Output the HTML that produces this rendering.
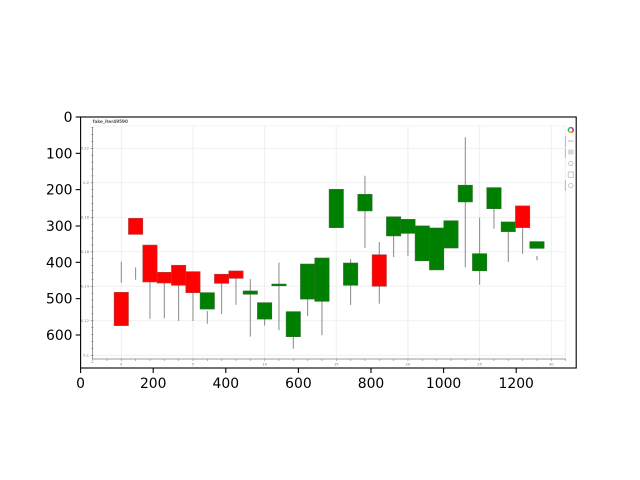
<!DOCTYPE html>
<html>
<head>
<meta charset="utf-8">
<title>fake_iter49590 candlestick chart</title>
<style>
html,body{margin:0;padding:0;background:#fff;}
svg{display:block;}
text{font-family:"DejaVu Sans","Liberation Sans",sans-serif;}
</style>
</head>
<body>
<svg id="chart" xmlns="http://www.w3.org/2000/svg" width="640" height="480" viewBox="0 0 640 480">
<defs><filter id="soft" x="0" y="0" width="100%" height="100%"><feGaussianBlur stdDeviation="0.35"/></filter></defs>
</svg>
<script>
const outerXTicks = [0, 200, 400, 600, 800, 1000, 1200];
const outerYTicks = [0, 100, 200, 300, 400, 500, 600];
const priceTicks = [0.1, 0.12, 0.14, 0.16, 0.18, 0.2, 0.22];
const priceTickLabels = ['0.1', '0.12', '0.14', '0.16', '0.18', '0.2', '0.22'];
const indexTicks = [0, 5, 10, 15, 20, 25, 30];
const openValues = [.1172,.1701,.1425,.1419,.1406,.1363,.1363,.1417,.1446,.1373,.1305,.1413,.1253,.1529,.1564,.1962,.1535,.1933,.1400,.1803,.1788,.1750,.1738,.1780,.1986,.1589,.1972,.1773,.1740,.1659];
const closeValues = [.1365,.1794,.1639,.1481,.1522,.1485,.1268,.1470,.1489,.1354,.1210,.1403,.1108,.1326,.1313,.1740,.1406,.1837,.1583,.1692,.1707,.1548,.1495,.1622,.1889,.1490,.1850,.1717,.1866,.1620];
const highValues = [.1543,.1510,.1639,.1481,.1522,.1485,.1257,.1470,.1489,.1442,.1305,.1537,.1253,.1529,.1564,.1962,.1558,.2041,.1657,.1803,.1788,.1750,.1738,.1780,.2264,.1798,.1972,.1773,.1866,.1576];
const lowValues = [.1421,.1438,.1212,.1214,.1199,.1199,.1183,.1239,.1293,.1108,.1172,.1145,.1038,.1228,.1116,.1740,.1292,.1622,.1299,.1570,.1576,.1548,.1495,.1622,.1510,.1409,.1734,.1541,.1589,.1551];

const NS = 'http://www.w3.org/2000/svg';
const svg = document.getElementById('chart');
const outerX = v => 80.6 + v * 0.363;
const outerY = v => 117 + v * 0.3633;
const priceY = v => 355.3 - (v - 0.1) * 1725;
const indexX = i => 121.3 + i * 14.333;

function make(tag, attrs, parent) {
  const el = document.createElementNS(NS, tag);
  for (const k in attrs) el.setAttribute(k, attrs[k]);
  (parent || svg).appendChild(el);
  return el;
}

const inner = make('g', {filter: 'url(#soft)'});


const innerBg = make('rect', {x: 81, y: 118, width: 495, height: 250, fill: '#ffffff'}, inner);



/* Embedded chart: grid */
priceTicks.forEach(v => {
  const g = make('line', {x1: 92.5, x2: 565, y1: priceY(v), y2: priceY(v), stroke: '#f1f1f1', 'stroke-width': 1}, inner);
  
  
});
indexTicks.forEach(i => {
  const g = make('line', {x1: indexX(i), x2: indexX(i), y1: 126, y2: 359, stroke: '#eeeeee', 'stroke-width': 1}, inner);
  
  
});
const topBorder = make('line', {x1: 92.5, x2: 565, y1: 126, y2: 126, stroke: '#f3f3f3', 'stroke-width': 1}, inner);


const rightBorder = make('line', {x1: 565.3, x2: 565.3, y1: 126, y2: 359, stroke: '#eeeeee', 'stroke-width': 1}, inner);



/* Embedded chart: candles */
openValues.forEach((o, i) => {
  const c = closeValues[i];
  const x = indexX(i);
  const wick = make('line', {x1: x, x2: x, y1: priceY(highValues[i]), y2: priceY(lowValues[i]), stroke: '#888888', 'stroke-width': 1}, inner);
  
  
  const up = c > o;
  const top = priceY(Math.max(o, c));
  const bottom = priceY(Math.min(o, c));
  const body = make('rect', {x: x - 7.17, y: top, width: 14.33, height: bottom - top, fill: up ? '#ff0000' : '#008000', stroke: up ? '#b04040' : '#2f6f2f', 'stroke-width': 0.6}, inner);
  
  
});

/* Embedded chart: axes */
const innerYAxis = make('line', {x1: 92.5, x2: 92.5, y1: 127, y2: 359, stroke: '#7a7a7a', 'stroke-width': 0.8}, inner);


const innerXAxis = make('line', {x1: 92.5, x2: 565.5, y1: 359, y2: 359, stroke: '#7a7a7a', 'stroke-width': 0.8}, inner);


for (let k = 0; k <= 33; k++) {
  const x = indexX(k - 2);
  if (x > 566) break;
  const t = make('line', {x1: x, x2: x, y1: 359, y2: 361, stroke: '#888888', 'stroke-width': 0.6}, inner);
  
  
}
for (let k = 0; k <= 34; k++) {
  const v = 0.096 + k * 0.004;
  if (priceY(v) < 127) break;
  const major = k % 5 === 1;
  const t = make('line', {x1: major ? 90.5 : 91.3, x2: 93.5, y1: priceY(v), y2: priceY(v), stroke: '#7a7a7a', 'stroke-width': 0.6}, inner);
  
  
}
priceTickLabels.forEach((s, i) => {
  const t = make('text', {x: 89, y: priceY(priceTicks[i]) + 1.2, 'font-size': 3.6, fill: '#777777', 'text-anchor': 'end'}, inner);
  t.textContent = s;
  
  
});
indexTicks.forEach(i => {
  const t = make('text', {x: indexX(i), y: 365.3, 'font-size': 3.6, fill: '#777777', 'text-anchor': 'middle'}, inner);
  t.textContent = String(i);
  
  
});
const innerTitle = make('text', {x: 92.7, y: 123, 'font-size': 4.2, 'font-weight': 'bold', fill: '#555555'}, inner);
innerTitle.textContent = 'fake_iter49590';



/* Embedded chart: toolbar */
const toolbar = make('g', {}, inner);


const logoColors = ['#e8412f', '#f5a623', '#3cb54a', '#2a9df4', '#8e44ad'];
logoColors.forEach((col, i) => {
  const a0 = i * 2 * Math.PI / 5, a1 = (i + 1) * 2 * Math.PI / 5;
  const r = 2.4, cx = 570.8, cy = 130;
  const seg = make('path', {d: `M${cx + r * Math.cos(a0)} ${cy + r * Math.sin(a0)}A${r} ${r} 0 0 1 ${cx + r * Math.cos(a1)} ${cy + r * Math.sin(a1)}`, fill: 'none', stroke: col, 'stroke-width': 1.5}, toolbar);
  
  
});
const pan = make('rect', {x: 568, y: 140.4, width: 5.6, height: 1.2, fill: '#c4c4c4'}, toolbar);


const zoomTool = make('rect', {x: 568, y: 149.5, width: 5.6, height: 5, fill: '#d8d8d8'}, toolbar);


const wheel = make('circle', {cx: 570.8, cy: 163.5, r: 2.2, fill: 'none', stroke: '#c4c4c4', 'stroke-width': 0.9}, toolbar);


const save = make('rect', {x: 568.3, y: 172, width: 5, height: 5.4, fill: 'none', stroke: '#c4c4c4', 'stroke-width': 0.9}, toolbar);


const reset = make('circle', {cx: 570.8, cy: 185.5, r: 2.2, fill: 'none', stroke: '#c4c4c4', 'stroke-width': 0.9}, toolbar);


const blue1 = make('line', {x1: 565.4, x2: 565.4, y1: 136, y2: 147, stroke: '#7cc4ee', 'stroke-width': 0.9}, toolbar);


const blue2 = make('line', {x1: 565.4, x2: 565.4, y1: 148, y2: 158, stroke: '#7cc4ee', 'stroke-width': 0.9}, toolbar);


const blue3 = make('line', {x1: 565.4, x2: 565.4, y1: 180, y2: 191, stroke: '#7cc4ee', 'stroke-width': 0.9}, toolbar);



/* Outer matplotlib axes */
const frame = make('rect', {x: 80.6, y: 117, width: 495.6, height: 251, fill: 'none', stroke: '#000', 'stroke-width': 1.1});


outerXTicks.forEach(v => {
  const t = make('line', {x1: outerX(v), x2: outerX(v), y1: 368, y2: 373, stroke: '#000', 'stroke-width': 1.1});
  
  
  const l = make('text', {x: outerX(v), y: 388, 'font-size': 13.9, fill: '#000', 'text-anchor': 'middle'});
  l.textContent = String(v);
  
  
});
outerYTicks.forEach(v => {
  const t = make('line', {x1: 75.7, x2: 80.6, y1: outerY(v), y2: outerY(v), stroke: '#000', 'stroke-width': 1.1});
  
  
  const l = make('text', {x: 72.5, y: outerY(v) + 5, 'font-size': 13.9, fill: '#000', 'text-anchor': 'end'});
  l.textContent = String(v);
  
  
});
</script>
</body>
</html>
